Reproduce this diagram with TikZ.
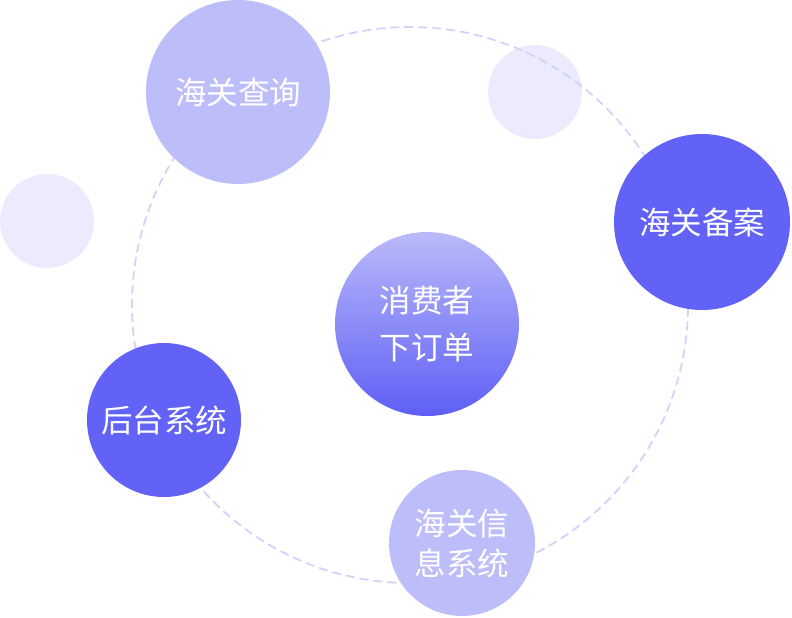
\documentclass[tikz,border=0pt]{standalone}
\usepackage{fontspec}
\newfontfamily\cjk{Noto Sans CJK SC}
\usepackage{tikz}
\usetikzlibrary{positioning, shapes.geometric}
\definecolor{deepviolet}{HTML}{6262F7}
\definecolor{softviolet}{HTML}{BDBDFA}
\definecolor{paleviolet}{HTML}{EBEBFD}
\definecolor{orbitline}{HTML}{D2D2FA}
\definecolor{gradtop}{HTML}{BABAFA}
\definecolor{gradbot}{HTML}{5E5EF6}

\begin{document}
\begin{tikzpicture}[x=1pt, y=-1pt, line join=round, line cap=round]
        \tikzset{orbit/.style={circle, draw=orbitline, line width=1.8pt,
                 dash pattern=on 8pt off 6pt, minimum size=556pt, inner sep=0pt}}
        \tikzset{bubble/.style={circle, inner sep=0pt, text=white, align=center,
                 font=\cjk\fontsize{31.5}{40}\selectfont}}
        \tikzset{deepbub/.style={bubble, fill=deepviolet}}
        \tikzset{softbub/.style={bubble, fill=softviolet}}
        \tikzset{palebub/.style={bubble, fill=paleviolet, minimum size=94pt}}
        \useasboundingbox (0, 0) rectangle (792, 618);
        % decorative dots
        \node[palebub] (dotleft) at (47, 221) {};
        \node[palebub] (dotright) at (535, 92) {};
        % dashed ring over the dots, under the bubbles
        \node[orbit] (ring) at (410, 305) {};
        % satellites
        \node[softbub, minimum size=184pt] (query) at (238, 92) {海关查询};
        \node[deepbub, minimum size=176pt] (record) at (702, 222) {海关备案};
        \node[deepbub, minimum size=154pt] (backend) at (164, 420) {后台系统};
        \node[softbub, minimum size=146pt] (infosys) at (462, 543) {海关信\\息系统};
        % centre
        \node[bubble, minimum size=184pt, top color=gradtop, bottom color=gradbot,
              font=\cjk\fontsize{31.5}{47}\selectfont]
             (order) at (427, 324) {消费者\\下订单};
    \end{tikzpicture}
\end{document}
